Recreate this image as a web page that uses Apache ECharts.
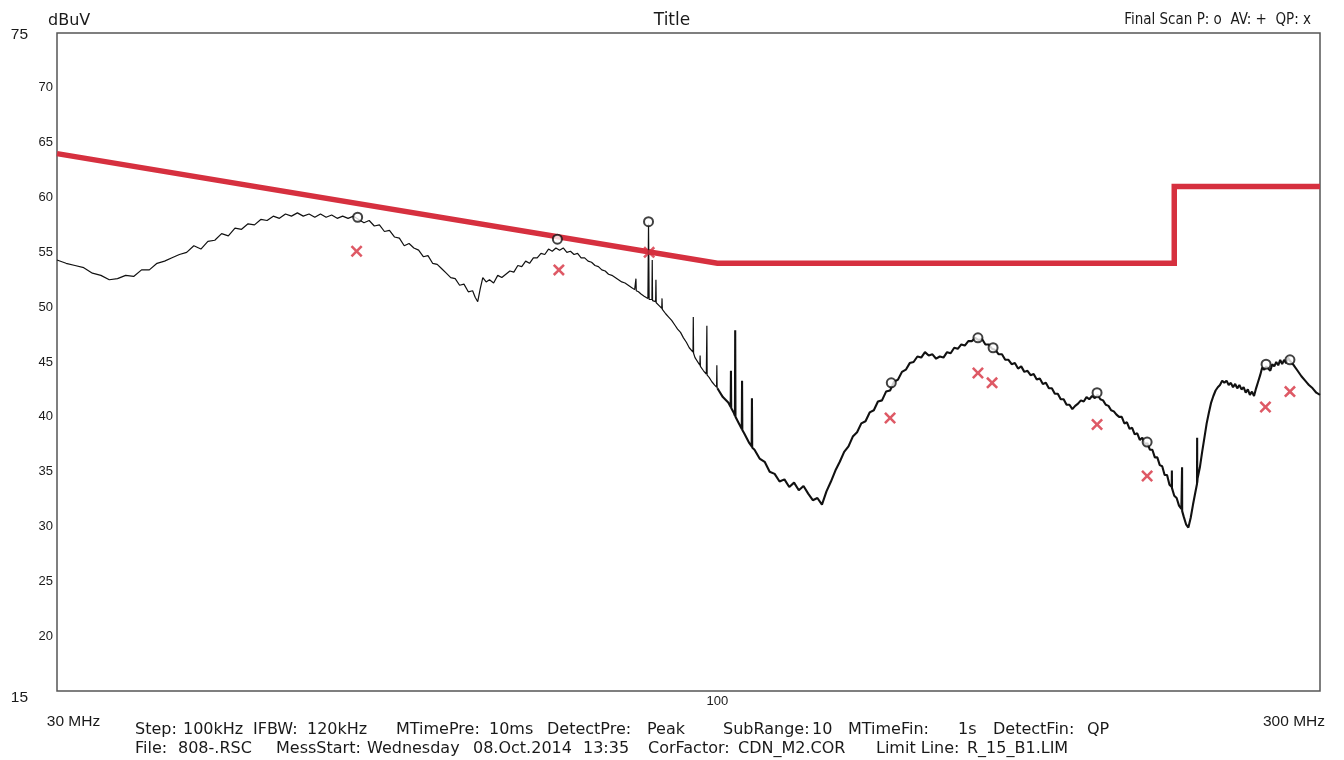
<!DOCTYPE html>
<html>
<head>
<meta charset="utf-8">
<script src="https://cdn.jsdelivr.net/npm/echarts@6/dist/echarts.min.js"></script>
<style>
html,body{margin:0;padding:0;background:#fff;}
#chart{width:1344px;height:760px;}
</style>
</head>
<body>
<div id="chart"></div>
<script>
// ---------------- DATA ----------------
const yTickValues = [15, 20, 25, 30, 35, 40, 45, 50, 55, 60, 65, 70, 75];
const xTickValues = [30, 100, 300];
const xTickLabels = ['30 MHz', '100', '300 MHz'];

const limitFreq  = [30, 100, 230, 230, 300];
const limitLevel = [64, 54, 54, 61, 61];

const peakFreq  = [51.9, 74.7, 88.2, 137.3, 160.8, 165.3, 199.8, 218.9, 271.9, 284.0];
const peakLevel = [58.2, 56.2, 57.8, 43.1, 47.2, 46.3, 42.2, 37.7, 44.8, 45.2];

const qpFreq  = [51.8, 74.9, 88.3, 137.0, 160.8, 165.0, 199.8, 218.9, 271.6, 284.0];
const qpLevel = [55.1, 53.4, 55.0, 39.9, 44.0, 43.1, 39.3, 34.6, 40.9, 42.3];

// measured trace [MHz, dBuV]
const trace = [
 [30,54.3],[30.5,54.0],[31,53.8],[31.5,53.6],[32,53.1],[32.5,52.9],[33,52.5],[33.5,52.6],[34,52.9],[34.5,52.8],
 [35,53.4],[35.5,53.4],[36,54.0],[36.5,54.2],[37,54.5],[37.5,54.8],[38,55.0],[38.5,55.6],[39,55.3],[39.5,56.0],
 [40,56.1],[40.5,56.7],[41,56.5],[41.5,57.2],[42,57.1],[42.5,57.6],[43,57.5],[43.5,58.0],[44,57.9],[44.5,58.3],
 [45,58.1],[45.5,58.5],[46,58.3],[46.5,58.6],[47,58.3],[47.5,58.5],[48,58.2],[48.5,58.5],[49,58.2],[49.5,58.4],
 [50,58.1],[50.5,58.3],[51,58.1],[51.5,58.3],[52,58.0],[52.5,57.7],[53,57.9],[53.5,57.4],[54,57.5],[54.5,56.9],
 [55,57.0],[55.5,56.4],[56,56.3],[56.5,55.6],[57,55.8],[57.5,55.4],[58,55.2],[58.5,54.6],[59,54.7],[59.5,54.0],
 [60,53.9],[60.5,53.5],[61,53.1],[61.5,52.7],[62,52.6],[62.5,52.0],[63,52.1],[63.5,51.4],[64,51.5],[64.3,50.9],
 [64.6,50.5],[64.9,51.7],[65.2,52.7],[65.6,52.3],[66,52.5],[66.5,52.2],[67,52.9],[67.5,52.7],[68,53.0],[68.5,53.3],
 [69,53.2],[69.5,53.8],[70,53.7],[70.5,54.2],[71,54.0],[71.5,54.5],[72,54.5],[72.5,54.9],[73,54.8],[73.5,55.3],
 [74,55.1],[74.5,55.4],[75,55.2],[75.5,55.4],[76,55.0],[76.5,55.1],[77,54.8],[77.5,54.9],[78,54.5],[78.5,54.5],
 [79,54.2],[79.5,54.1],[80,53.8],[80.5,53.7],[81,53.4],[81.5,53.3],[82,53.0],[82.5,52.9],[83,52.7],[83.5,52.5],
 [84,52.3],[84.5,52.2],[85,52.0],[85.5,51.8],[86,51.6],[86.15,51.5],[86.2,52.6],[86.25,51.5],[86.6,51.4],[87,51.2],
 [87.5,51.0],[88.1,50.8],[88.2,57.6],[88.3,50.7],[88.75,50.7],[88.8,54.3],[88.85,50.6],[89.35,50.5],[89.4,52.5],[89.45,50.4],
 [90,50.1],[90.35,49.9],[90.4,50.8],[90.45,49.8],[91,49.4],[91.5,49.1],[92,48.8],[92.5,48.4],[93,48.0],[93.5,47.7],
 [94,47.2],[94.5,46.8],[95,46.3],[95.65,45.9],[95.7,49.1],[95.75,45.8],[96,45.4],[96.85,44.7],[96.9,45.6],[96.95,44.6],
 [97,44.6],[97.5,44.2],[98,43.9],[98.05,43.9],[98.1,48.3],[98.15,43.8],[98.5,43.6],[99,43.2],[99.5,42.9],[99.85,42.7],
 [99.9,44.7],[99.95,42.7],[100,42.6],[101,41.8],[102,41.3],[102.45,40.9],[102.5,44.2],[102.55,40.8],[103,40.4],[103.25,40.1],
 [103.3,47.9],[103.35,40.0],[104,39.4],[104.55,38.9],[104.6,43.3],[104.65,38.8],[105,38.5],[106,37.6],[106.45,37.3],[106.5,41.7],
 [106.55,37.2],[107,37.0],[108,36.2],[109,35.9],[110,35.0],[111,34.8],[112,34.1],[113,34.3],[114,33.6],[115,34.0],
 [116,33.3],[117,33.7],[118,33.0],[119,32.4],[120,32.6],[121,32.0],[122,33.2],[123,34.1],[124,35.1],[125,35.9],
 [126,36.8],[127,37.3],[128,38.2],[129,38.6],[130,39.4],[131,39.6],[132,40.4],[133,40.6],[134,41.4],[135,41.5],
 [136,42.3],[137,42.4],[138,43.2],[139,43.4],[140,44.1],[141,44.3],[142,44.9],[143,45.0],[144,45.5],[145,45.4],
 [146,45.9],[147,45.6],[148,45.7],[149,45.3],[150,45.5],[151,45.4],[152,45.9],[153,45.8],[154,46.3],[155,46.2],
 [156,46.6],[157,46.5],[158,46.9],[159,46.9],[160,47.2],[161,47.0],[162,47.1],[163,46.6],[164,46.6],[165,46.2],
 [166,46.1],[167,45.7],[168,45.7],[169,45.2],[170,45.2],[171,44.8],[172,44.9],[173,44.4],[174,44.6],[175,44.1],
 [176,44.2],[177,43.8],[178,43.9],[179,43.4],[180,43.5],[181,43.0],[182,43.1],[183,42.6],[184,42.6],[185,42.1],
 [186,42.1],[187,41.6],[188,41.6],[189,41.1],[190,41.1],[191,40.7],[192,41.0],[193,41.2],[194,41.5],[195,41.4],
 [196,41.8],[197,41.6],[198,41.9],[199,41.7],[200,42.0],[201,41.6],[202,41.5],[203,41.1],[204,41.0],[205,40.6],
 [206,40.5],[207,40.2],[208,40.0],[209,40.0],[210,39.4],[211,39.5],[212,38.9],[213,39.0],[214,38.4],[215,38.5],
 [216,37.9],[217,38.1],[218,37.5],[219,37.6],[220,37.0],[221,37.0],[222,36.3],[223,36.3],[224,35.6],[225,35.5],
 [226,34.7],[227,34.7],[228,33.8],[228.95,33.6],[229,35.1],[229.05,33.5],[230,32.8],[231,32.6],[232,31.9],[233,31.6],
 [233.25,31.5],[233.3,35.4],[233.35,31.4],[234,30.9],[235,30.2],[236,29.9],[237,30.8],[238,32.0],[239,33.1],[239.75,33.9],
 [239.8,38.1],[239.85,34.0],[240,34.4],[241,35.4],[242,36.8],[243,38.1],[244,39.4],[245,40.4],[246,41.3],[247,41.9],
 [248,42.4],[249,42.7],[250,42.9],[251,43.3],[252,43.1],[253,43.3],[254,42.9],[255,43.1],[256,42.7],[257,43.0],
 [258,42.6],[259,42.9],[260,42.5],[261,42.7],[262,42.2],[263,42.5],[264,42.0],[265,42.3],[266,41.9],[267,42.6],
 [268,43.2],[269,43.8],[270,44.5],[271,44.3],[272,44.6],[273,44.4],[274,44.2],[275,44.8],[276,44.6],[277,45.0],
 [278,44.7],[279,45.2],[280,44.8],[281,45.2],[282,44.9],[283,45.4],[284,45.1],[285,45.0],[286,44.7],[287,44.6],
 [288,44.2],[289,44.1],[290,43.7],[291,43.6],[292,43.3],[293,43.1],[294,42.9],[295,42.8],[296,42.6],[297,42.5],
 [298,42.2],[299,42.3],[300,42.0]
];

const unitText = 'dBuV';
const titleText = 'Title';
const legendText = 'Final Scan P: o  AV: +  QP: x';
const footerLine1 = ['Step:', '100kHz', 'IFBW:', '120kHz', 'MTimePre:', '10ms', 'DetectPre:', 'Peak', 'SubRange:', '10', 'MTimeFin:', '1s', 'DetectFin:', 'QP'];
const footerLine2 = ['File:', '808-.RSC', 'MessStart:', 'Wednesday', '08.Oct.2014', '13:35', 'CorFactor:', 'CDN_M2.COR', 'Limit Line:', 'R_15_B1.LIM'];

// ---------------- LAYOUT ----------------
const RED = '#d6303f';
const TRACE_SPLIT_MHZ = 100; // left part drawn thinner, right part (dense noise) thicker
const footX1 = [135, 183, 253, 307, 396, 489, 547, 647, 723, 812, 848, 958, 993, 1087];
const footX2 = [135, 178, 276, 367, 473, 583, 648, 738, 876, 967];
const footFont = '16px "DejaVu Sans", sans-serif';

const graphics = [];
footerLine1.forEach((t, i) => graphics.push({type: 'text', x: footX1[i], y: 730,
  style: {text: t, font: footFont, fill: '#1a1a1a', verticalAlign: 'middle'}}));
footerLine2.forEach((t, i) => graphics.push({type: 'text', x: footX2[i], y: 749,
  style: {text: t, font: footFont, fill: '#1a1a1a', verticalAlign: 'middle'}}));

const traceLeft = trace.filter(p => p[0] <= TRACE_SPLIT_MHZ);
const traceRight = trace.filter(p => p[0] >= TRACE_SPLIT_MHZ);

const chart = echarts.init(document.getElementById('chart'), null, {renderer: 'canvas'});
chart.setOption({
  animation: false,
  backgroundColor: '#fff',
  title: [
    {text: unitText, left: 43, top: 8, textStyle: {fontFamily: '"DejaVu Sans", sans-serif', fontSize: 16, fontWeight: 'normal', color: '#1a1a1a'}},
    {text: titleText, left: 'center', top: 7, textStyle: {fontFamily: '"DejaVu Sans", sans-serif', fontSize: 17, fontWeight: 'normal', color: '#1a1a1a'}},
    {text: legendText, right: 28, top: 8, textStyle: {fontFamily: '"DejaVu Sans Condensed", "DejaVu Sans", sans-serif', fontSize: 15, fontWeight: 'normal', color: '#1a1a1a'}}
  ],
  grid: {left: 57, right: 24, top: 33, bottom: 69, show: true, borderColor: '#555', borderWidth: 1.5, backgroundColor: '#fff'},
  xAxis: {
    type: 'log', logBase: 10, min: 30, max: 300,
    axisLine: {show: false}, axisTick: {show: false}, splitLine: {show: false},
    axisLabel: {
      customValues: xTickValues,
      showMinLabel: true, showMaxLabel: true,
      margin: 4,
      formatter: function (v) {
        const i = xTickValues.indexOf(Math.round(v));
        if (i === 0) return '{lo|' + xTickLabels[0] + '}';
        if (i === 2) return '{hi|' + xTickLabels[2] + '}';
        if (i === 1) return '{mid|' + xTickLabels[1] + '}';
        return '';
      },
      rich: {
        lo: {fontFamily: 'Liberation Sans', fontSize: 15.5, color: '#1a1a1a', padding: [19, 0, 0, 33]},
        mid: {fontFamily: 'Liberation Sans', fontSize: 13, color: '#1a1a1a'},
        hi: {fontFamily: 'Liberation Sans', fontSize: 15.5, color: '#1a1a1a', padding: [19, 52, 0, 0]}
      }
    }
  },
  yAxis: {
    type: 'value', min: 15, max: 75, interval: 5,
    axisLine: {show: false}, axisTick: {show: false}, splitLine: {show: false},
    axisLabel: {
      margin: 4,
      fontFamily: 'Liberation Sans', fontSize: 13, color: '#1a1a1a',
      formatter: function (v) {
        if (v === yTickValues[yTickValues.length - 1]) return '{top|' + v + '}';
        if (v === yTickValues[0]) return '{bot|' + v + '}';
        return String(v);
      },
      rich: {
        top: {fontFamily: 'Liberation Sans', fontSize: 15.5, color: '#1a1a1a', padding: [4, 25, 0, 0]},
        bot: {fontFamily: 'Liberation Sans', fontSize: 15.5, color: '#1a1a1a', padding: [14, 25, 0, 0]}
      }
    }
  },
  graphic: graphics,
  series: [
    {
      name: 'Limit', type: 'line', z: 2, symbol: 'none', silent: true,
      data: limitFreq.map((f, i) => [f, limitLevel[i]]),
      lineStyle: {color: RED, width: 5.5, join: 'miter'}
    },
    {
      name: 'Trace', type: 'line', z: 3, symbol: 'none', silent: true,
      data: traceLeft,
      lineStyle: {color: '#111', width: 1.2}
    },
    {
      name: 'Trace', type: 'line', z: 3, symbol: 'none', silent: true,
      data: traceRight,
      lineStyle: {color: '#111', width: 2.1}
    },
    {
      name: 'Peak', type: 'scatter', z: 5, symbol: 'emptyCircle', symbolSize: 9,
      data: peakFreq.map((f, i) => [f, peakLevel[i]]),
      itemStyle: {color: '#111', borderColor: '#111', borderWidth: 2}
    },
    {
      name: 'QP', type: 'scatter', z: 4,
      symbol: 'path://M1.5,0L5,3.5L8.5,0L10,1.5L6.5,5L10,8.5L8.5,10L5,6.5L1.5,10L0,8.5L3.5,5L0,1.5Z',
      symbolSize: 12,
      data: qpFreq.map((f, i) => [f, qpLevel[i]]),
      itemStyle: {color: RED}
    }
  ]
});
</script>
</body>
</html>
